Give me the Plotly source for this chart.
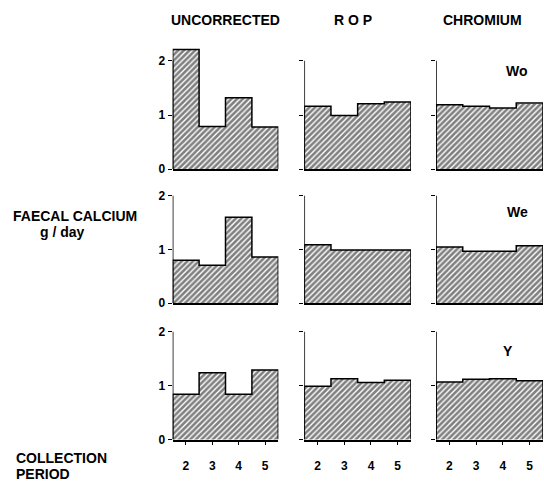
import plotly.graph_objects as go

periods = [2, 3, 4, 5]
methods = ["UNCORRECTED", "R O P", "CHROMIUM"]
subjects = ["Wo", "We", "Y"]

# faecal calcium g/day, rows = subjects, cols = methods
wo_uncorrected = [2.21, 0.79, 1.32, 0.78]
wo_rop = [1.16, 0.99, 1.21, 1.24]
wo_chromium = [1.19, 1.16, 1.13, 1.22]

we_uncorrected = [0.80, 0.71, 1.60, 0.86]
we_rop = [1.09, 0.99, 0.99, 0.99]
we_chromium = [1.05, 0.97, 0.97, 1.07]

y_uncorrected = [0.84, 1.24, 0.84, 1.29]
y_rop = [0.99, 1.13, 1.06, 1.10]
y_chromium = [1.07, 1.12, 1.13, 1.09]

data = [
    [wo_uncorrected, wo_rop, wo_chromium],
    [we_uncorrected, we_rop, we_chromium],
    [y_uncorrected, y_rop, y_chromium],
]

W, H = 544, 487
col_px = [(172.7, 278.3), (304.3, 411.0), (436.0, 543.0)]
row_px = [(171.7, 55.0), (307.7, 54.5), (446.0, 54.7)]  # (zero px, px per unit)
YMAX = 2.3

FONT = "Liberation Sans, Arial, sans-serif"

fig = go.Figure()
layout = {}
shapes = []
n = 0
for r in range(3):
    for c in range(3):
        n += 1
        xa = "x" if n == 1 else f"x{n}"
        ya = "y" if n == 1 else f"y{n}"
        vals = data[r][c]
        fig.add_trace(go.Bar(
            x=periods, y=vals, width=1.0, xaxis=xa, yaxis=ya,
            marker=dict(color="white",
                        pattern=dict(shape="/", fgcolor="black", bgcolor="white",
                                     size=4, solidity=0.65, fillmode="overlay"),
                        line=dict(width=0)),
            showlegend=False, hoverinfo="skip",
        ))
        edges = [p - 0.5 for p in periods] + [periods[-1] + 0.5]
        xs = [edges[0]] + edges + [edges[-1]]
        ys = [0] + list(vals) + [vals[-1], 0]
        fig.add_trace(go.Scatter(
            x=xs, y=ys, mode="lines", line=dict(color="black", width=1.5, shape="hv"),
            xaxis=xa, yaxis=ya, showlegend=False, hoverinfo="skip",
        ))
        # y axis line from 0 to 2
        shapes.append(dict(type="line", xref=xa, yref=ya, x0=edges[0], x1=edges[0], y0=0, y1=2,
                           line=dict(color="black", width=1.5), layer="above"))
        x0, x1 = col_px[c]
        z, u = row_px[r]
        key = "" if n == 1 else str(n)
        layout["xaxis" + key] = dict(
            domain=[x0 / W, x1 / W], range=[edges[0], edges[-1]], anchor=ya,
            showline=True, linecolor="black", linewidth=1.5, showgrid=False, zeroline=False,
            tickmode="array", tickvals=periods, ticktext=[str(p) for p in periods],
            ticks="outside" if r == 2 else "", ticklen=4, tickwidth=1.2, tickcolor="black",
            showticklabels=(r == 2), ticklabelstandoff=10,
            tickfont=dict(family=FONT, size=12, color="black", weight="bold"),
        )
        layout["yaxis" + key] = dict(
            domain=[1 - z / H, 1 - (z - YMAX * u) / H], range=[0, YMAX], anchor=xa,
            showline=False, showgrid=False, zeroline=False,
            tickmode="array", tickvals=[0, 1, 2], ticktext=["0", "1", "2"],
            ticks="outside", ticklen=4, tickwidth=1.2, tickcolor="black",
            showticklabels=(c == 0),
            tickfont=dict(family=FONT, size=12, color="black", weight="bold"),
        )

annotations = []
title_x = [225, 353, 482]
for m, tx in zip(methods, title_x):
    annotations.append(dict(text=m, x=tx / W, y=1 - 20 / H, xref="paper", yref="paper",
                            showarrow=False, xanchor="center", yanchor="middle",
                            font=dict(family=FONT, size=14, color="black", weight="bold")))
subj_pos = [(517, 72), (517, 215), (508, 356)]
for s, (sx, sy) in zip(subjects, subj_pos):
    annotations.append(dict(text=s, x=sx / W, y=1 - sy / H, xref="paper", yref="paper",
                            showarrow=False, xanchor="center", yanchor="middle",
                            font=dict(family=FONT, size=14, color="black", weight="bold")))
annotations.append(dict(text="FAECAL CALCIUM", x=75 / W, y=1 - 219 / H, xref="paper", yref="paper",
                        showarrow=False, xanchor="center", yanchor="middle",
                        font=dict(family=FONT, size=14, color="black", weight="bold")))
annotations.append(dict(text="g / day", x=62 / W, y=1 - 235 / H, xref="paper", yref="paper",
                        showarrow=False, xanchor="center", yanchor="middle",
                        font=dict(family=FONT, size=14, color="black", weight="bold")))
annotations.append(dict(text="COLLECTION", x=14 / W, y=1 - 465 / H, xref="paper", yref="paper",
                        showarrow=False, xanchor="left", yanchor="middle",
                        font=dict(family=FONT, size=14, color="black", weight="bold")))
annotations.append(dict(text="PERIOD", x=14 / W, y=1 - 481 / H, xref="paper", yref="paper",
                        showarrow=False, xanchor="left", yanchor="middle",
                        font=dict(family=FONT, size=14, color="black", weight="bold")))

fig.update_layout(
    width=W, height=H, margin=dict(l=0, r=0, t=0, b=0),
    paper_bgcolor="white", plot_bgcolor="white", bargap=0,
    annotations=annotations, shapes=shapes, **layout,
)

fig.write_html("out.html", config={"displayModeBar": False})
